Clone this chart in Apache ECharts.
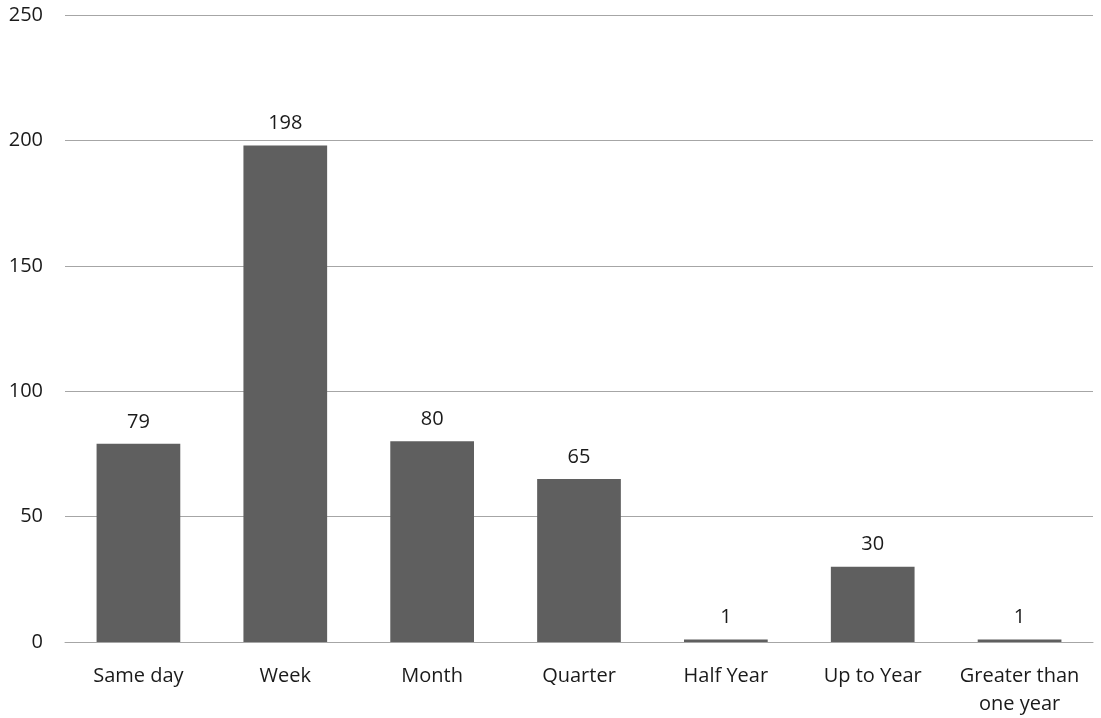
<!DOCTYPE html>
<html>
<head>
<meta charset="utf-8">
<script src="https://cdn.jsdelivr.net/npm/echarts@6/dist/echarts.min.js"></script>
<style>
  html, body { margin: 0; padding: 0; background: #fff; }
  #main { width: 1101px; height: 718px; }
</style>
</head>
<body>
<div id="main"></div>
<script>
// data
var categories = ['Same day', 'Week', 'Month', 'Quarter', 'Half Year', 'Up to Year', 'Greater than\none year'];
var counts = [79, 198, 80, 65, 1, 30, 1];
var yTicks = [0, 50, 100, 150, 200, 250];

var chart = echarts.init(document.getElementById('main'));
var fontFam = '"Open Sans", "DejaVu Sans", sans-serif';

var option = {
  animation: false,
  grid: { left: 65, right: 8, top: 15, bottom: 76 },
  xAxis: {
    type: 'category',
    data: categories,
    axisTick: { show: false },
    axisLine: { lineStyle: { color: '#a6a6a6', width: 1 } },
    axisLabel: {
      color: '#1a1a1a', fontSize: 20, fontFamily: fontFam, margin: 20,
      lineHeight: 28, interval: 0
    }
  },
  yAxis: {
    type: 'value',
    min: yTicks[0],
    max: yTicks[yTicks.length - 1],
    interval: 50,
    axisLine: { show: false },
    axisTick: { show: false },
    axisLabel: { color: '#1a1a1a', fontSize: 20, fontFamily: fontFam, margin: 22, align: 'right' },
    splitLine: { lineStyle: { color: '#a6a6a6', width: 1 } }
  },
  series: [{
    type: 'bar',
    data: counts,
    barWidth: '57%',
    itemStyle: { color: '#5f5f5f' },
    label: {
      show: true, position: 'top', distance: 12,
      color: '#1a1a1a', fontSize: 20, fontFamily: fontFam
    }
  }]
};
chart.setOption(option);
</script>
</body>
</html>
